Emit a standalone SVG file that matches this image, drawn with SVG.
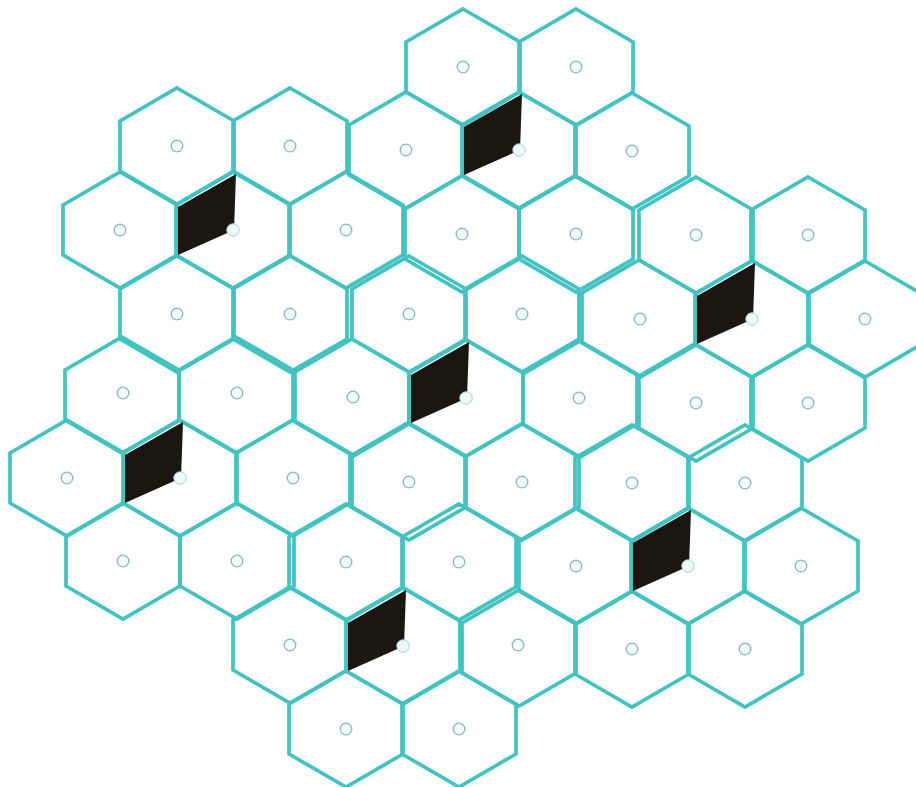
<svg xmlns="http://www.w3.org/2000/svg" xmlns:xlink="http://www.w3.org/1999/xlink" width="916" height="787" viewBox="0 0 916 787">
<style>
.hex{fill:none;stroke:#3fc4c2;stroke-width:3.7;stroke-linejoin:miter}
.dot{fill:#f2fafa;stroke:#86b8c2;stroke-width:1.3}
.wedge{fill:#1b1710}
.wdot{fill:#eef9fa;stroke:#9fd3d8;stroke-width:1}
</style>
<defs>
<polygon id="h" class="hex" points="0,-58 57,-25 57,25 0,58 -57,25 -57,-25"/>
<circle id="d" class="dot" r="5.8"/>
<g id="b">
<polygon class="wedge" points="3,-56 -55,-23 -55,25 1,0"/>
<circle class="wdot" r="6.2"/>
</g>
</defs>
<rect width="916" height="787" fill="#ffffff"/>
<g id="cells">
<g id="r0c0"><use href="#h" x="463" y="67"/><use href="#d" x="463" y="67"/></g>
<g id="r0c1"><use href="#h" x="576" y="67"/><use href="#d" x="576" y="67"/></g>
<g id="r1c0"><use href="#h" x="177" y="146"/><use href="#d" x="177" y="146"/></g>
<g id="r1c1"><use href="#h" x="290" y="146"/><use href="#d" x="290" y="146"/></g>
<g id="r1c2"><use href="#h" x="406" y="150"/><use href="#d" x="406" y="150"/></g>
<g id="r1c3"><use href="#h" x="519" y="150"/></g>
<g id="r1c4"><use href="#h" x="632" y="151"/><use href="#d" x="632" y="151"/></g>
<g id="r2c0"><use href="#h" x="120" y="230"/><use href="#d" x="120" y="230"/></g>
<g id="r2c1"><use href="#h" x="233" y="230"/></g>
<g id="r2c2"><use href="#h" x="346" y="230"/><use href="#d" x="346" y="230"/></g>
<g id="r2c3"><use href="#h" x="462" y="234"/><use href="#d" x="462" y="234"/></g>
<g id="r2c4"><use href="#h" x="576" y="234"/><use href="#d" x="576" y="234"/></g>
<g id="r2c5"><use href="#h" x="696" y="235"/><use href="#d" x="696" y="235"/></g>
<g id="r2c6"><use href="#h" x="808" y="235"/><use href="#d" x="808" y="235"/></g>
<g id="r3c0"><use href="#h" x="177" y="314"/><use href="#d" x="177" y="314"/></g>
<g id="r3c1"><use href="#h" x="290" y="314"/><use href="#d" x="290" y="314"/></g>
<g id="r3c2"><use href="#h" x="409" y="314"/><use href="#d" x="409" y="314"/></g>
<g id="r3c3"><use href="#h" x="522" y="314"/><use href="#d" x="522" y="314"/></g>
<g id="r3c4"><use href="#h" x="639" y="318"/><use href="#d" x="640" y="319"/></g>
<g id="r3c5"><use href="#h" x="752" y="319"/></g>
<g id="r3c6"><use href="#h" x="865" y="319"/><use href="#d" x="865" y="319"/></g>
<g id="r4c0"><use href="#h" x="122" y="395"/><use href="#d" x="123" y="393"/></g>
<g id="r4c1"><use href="#h" x="236" y="395"/><use href="#d" x="237" y="393"/></g>
<g id="r4c2"><use href="#h" x="352" y="397"/><use href="#d" x="353" y="397"/></g>
<g id="r4c3"><use href="#h" x="466" y="398"/></g>
<g id="r4c4"><use href="#h" x="580" y="399"/><use href="#d" x="579" y="398"/></g>
<g id="r4c5"><use href="#h" x="696" y="403"/><use href="#d" x="696" y="403"/></g>
<g id="r4c6"><use href="#h" x="808" y="403"/><use href="#d" x="808" y="403"/></g>
<g id="r5c0"><use href="#h" x="67" y="478"/><use href="#d" x="67" y="478"/></g>
<g id="r5c1"><use href="#h" x="180" y="478"/></g>
<g id="r5c2"><use href="#h" x="293" y="478"/><use href="#d" x="293" y="478"/></g>
<g id="r5c3"><use href="#h" x="409" y="482"/><use href="#d" x="409" y="482"/></g>
<g id="r5c4"><use href="#h" x="522" y="482"/><use href="#d" x="522" y="482"/></g>
<g id="r5c5"><use href="#h" x="632" y="483"/><use href="#d" x="632" y="483"/></g>
<g id="r5c6"><use href="#h" x="745" y="483"/><use href="#d" x="745" y="483"/></g>
<g id="r6c0"><use href="#h" x="123" y="561"/><use href="#d" x="123" y="561"/></g>
<g id="r6c1"><use href="#h" x="237" y="561"/><use href="#d" x="237" y="561"/></g>
<g id="r6c2"><use href="#h" x="346" y="562"/><use href="#d" x="346" y="562"/></g>
<g id="r6c3"><use href="#h" x="459" y="562"/><use href="#d" x="459" y="562"/></g>
<g id="r6c4"><use href="#h" x="576" y="566"/><use href="#d" x="576" y="566"/></g>
<g id="r6c5"><use href="#h" x="688" y="566"/></g>
<g id="r6c6"><use href="#h" x="801" y="566"/><use href="#d" x="801" y="566"/></g>
<g id="r7c0"><use href="#h" x="290" y="645"/><use href="#d" x="290" y="645"/></g>
<g id="r7c1"><use href="#h" x="403" y="646"/></g>
<g id="r7c2"><use href="#h" x="519" y="648"/><use href="#d" x="518" y="645"/></g>
<g id="r7c3"><use href="#h" x="632" y="649"/><use href="#d" x="632" y="649"/></g>
<g id="r7c4"><use href="#h" x="745" y="649"/><use href="#d" x="745" y="649"/></g>
<g id="r8c0"><use href="#h" x="346" y="729"/><use href="#d" x="346" y="729"/></g>
<g id="r8c1"><use href="#h" x="459" y="729"/><use href="#d" x="459" y="729"/></g>
</g>
<g id="wedges">
<use href="#b" x="519" y="150"/>
<use href="#b" x="233" y="230"/>
<use href="#b" x="752" y="319"/>
<use href="#b" x="466" y="398"/>
<use href="#b" x="180" y="478"/>
<use href="#b" x="688" y="566"/>
<use href="#b" x="403" y="646"/>
</g>
<g id="connectors"/>
</svg>
